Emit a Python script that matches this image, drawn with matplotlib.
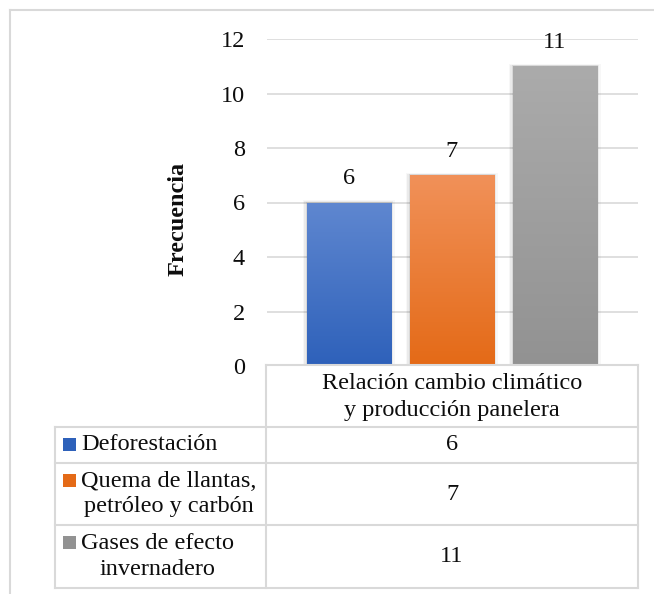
import matplotlib.pyplot as plt
import numpy as np
from matplotlib.colors import LinearSegmentedColormap
from matplotlib.patches import Rectangle
from matplotlib.lines import Line2D

# Datos del gráfico
categoria = "Relación cambio climático\ny producción panelera"
series = ["Deforestación", "Quema de llantas,\npetróleo y carbón", "Gases de efecto\ninvernadero"]
valores = [6, 7, 11]
yticks = [0, 2, 4, 6, 8, 10, 12]

# Colores degradados (arriba, abajo)
colores = [("#5F87D0", "#2E61BA"), ("#F19159", "#E46A17"), ("#ABABAB", "#929292")]
gris_borde = "#D9D9D9"
texto = "#0D0D0D"
fs = 17.5

W, H = 654, 594
plt.rcParams['font.family'] = ['Liberation Serif', 'DejaVu Serif']
fig = plt.figure(figsize=(W / 100, H / 100), dpi=100)


def fx(x):
    return x / W


def fy(y):
    return 1 - y / H


# Área del gráfico en píxeles
x0, x1, y_top, y_bot = 267, 638, 39, 366
ax = fig.add_axes([fx(x0), fy(y_bot), fx(x1) - fx(x0), fy(y_top) - fy(y_bot)])

pos = np.arange(len(valores))
ancho = 0.816
barras = ax.bar(pos, valores, width=ancho, color="none", zorder=3)

for b, (c_top, c_bot) in zip(barras, colores):
    bx, by = b.get_x(), b.get_y()
    bw, bh = b.get_width(), b.get_height()
    # sombra suave
    for k, a in enumerate([0.07, 0.05, 0.03]):
        d = 0.012 * (k + 1)
        ax.add_patch(Rectangle((bx - d, by), bw + 2 * d, bh + 0.03 * (k + 1), color="#000000",
                               alpha=a, zorder=2, lw=0))
    cmap = LinearSegmentedColormap.from_list("g", [c_bot, c_top])
    grad = np.linspace(0, 1, 256).reshape(-1, 1)
    im = ax.imshow(grad, cmap=cmap, origin="lower", aspect="auto",
                   extent=[bx, bx + bw, by, by + bh], zorder=3)
    im.set_clip_path(b)
    ax.annotate(str(int(bh)), (b.get_x() + bw / 2, bh), xytext=(0, 13), textcoords="offset points",
                ha="center", va="baseline", fontsize=fs, color=texto)

ax.set_xlim(-0.796, 2.806)
ax.set_ylim(0, 12)
ax.set_yticks(yticks)
ax.set_xticks([])
ax.tick_params(axis="y", length=0, pad=16, labelsize=fs, labelcolor=texto)
ax.grid(axis="y", color=gris_borde, linewidth=1.2, zorder=0)
ax.set_axisbelow(True)
for s in ax.spines.values():
    s.set_visible(False)

fig.text(fx(178), fy(219), "Frecuencia", rotation=90, ha="center", va="center",
         fontsize=fs, fontweight="bold", color=texto)

# Tabla de datos
filas = [365, 427, 463, 525, 588]
col_izq, col_med, col_der = 55, 266, 638


def linea(xa, ya, xb, yb):
    fig.add_artist(Line2D([fx(xa), fx(xb)], [fy(ya), fy(yb)], color=gris_borde, lw=1.5))


linea(col_med, filas[0], col_der, filas[0])
for y in filas[1:]:
    linea(col_izq, y, col_der, y)
linea(col_izq, filas[1], col_izq, filas[-1])
linea(col_med, filas[0], col_med, filas[-1])
linea(col_der, filas[0], col_der, filas[-1])

xc = (col_med + col_der) / 2
fig.text(fx(xc), fy((filas[0] + filas[1]) / 2 + 1), categoria, ha="center", va="center",
         fontsize=fs, linespacing=1.32, color=texto)

for i, (nombre, val, (c_top, c_bot)) in enumerate(zip(series, valores, colores)):
    yc = (filas[i + 1] + filas[i + 2]) / 2
    lineas = nombre.count("\n") + 1
    y_sq = yc - 13 * (lineas - 1) - 1
    fig.add_artist(Rectangle((fx(63), fy(y_sq + 6.5)), fx(13), 13 / H, color=c_bot, lw=0))
    fig.text(fx(81), fy(yc), nombre, ha="left", va="center", multialignment="center",
             fontsize=fs, linespacing=1.3, color=texto)
    fig.text(fx(xc), fy(yc), str(val), ha="center", va="center", fontsize=fs, color=texto)

# Borde exterior (solo arriba e izquierda quedan dentro de la imagen)
linea(10, 10, 660, 10)
linea(10, 10, 10, 600)

fig.savefig("out.png", dpi=100, facecolor="white")
